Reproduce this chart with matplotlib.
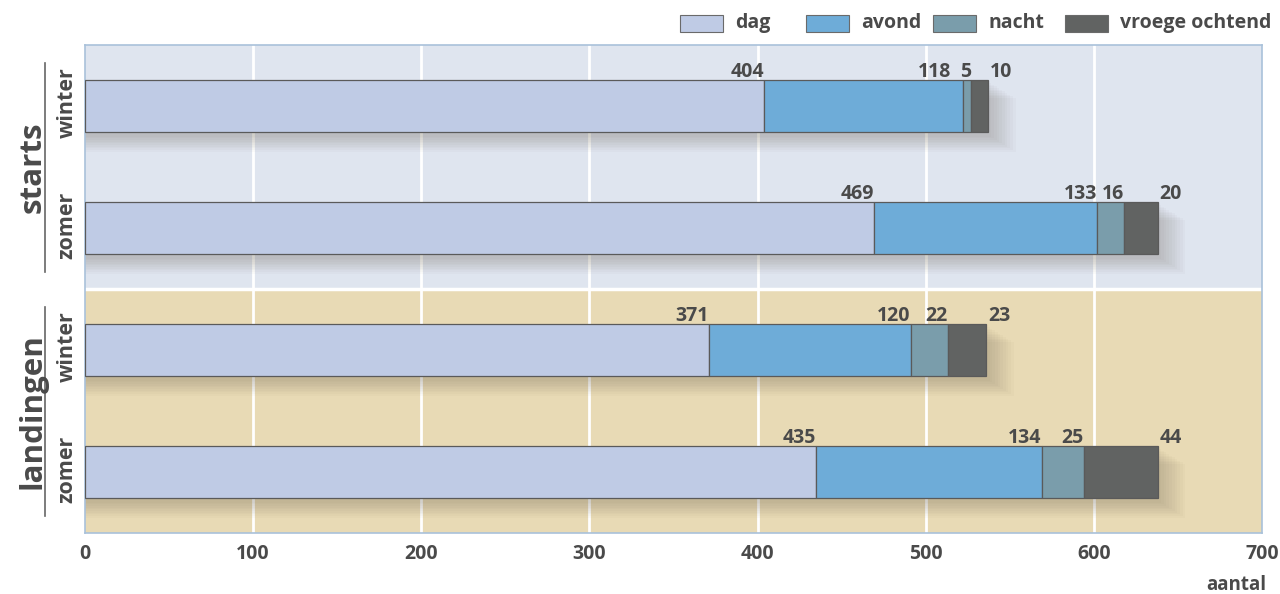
import matplotlib.pyplot as plt
import matplotlib.patches as mpatches
import numpy as np

# data
groups = ["starts", "landingen"]
seasons = ["winter", "zomer"]
periods = ["dag", "avond", "nacht", "vroege ochtend"]
colors = ["#bfcbe5", "#6eacd8", "#7a9dab", "#616362"]

dag = [404, 469, 371, 435]
avond = [118, 133, 120, 134]
nacht = [5, 16, 22, 25]
vroeg = [10, 20, 23, 44]

xticks = [0, 100, 200, 300, 400, 500, 600, 700]

txt = "#4a4a4a"
plt.rcParams["font.family"] = ["Open Sans", "DejaVu Sans"]

fig = plt.figure(figsize=(12.8, 5.94), dpi=100)
ax = fig.add_axes([85 / 1280, 1 - 533 / 594, (1262 - 85) / 1280, 488 / 594])

ax.set_xlim(0, 700)
ax.set_ylim(4, 0)

# backgrounds
ax.axhspan(0, 2, color="#dfe5ef", zorder=0)
ax.axhspan(2, 4, color="#e8dab5", zorder=0)
ax.axhline(2, color="white", lw=2.5, zorder=1)
for x in xticks[1:-1]:
    ax.axvline(x, color="white", lw=2, zorder=1)

data = np.array([dag, avond, nacht, vroeg]).T
ypos = np.arange(4) + 0.5
h = 0.42

for i, row in enumerate(data):
    total = row.sum()
    # soft shadow
    for k in range(10):
        ax.add_patch(mpatches.Rectangle((0, ypos[i] - h / 2 + 0.02 + 0.014 * k),
                                        total + 2 + 1.6 * k, h + 0.02,
                                        color="#6a6050", alpha=0.03, lw=0, zorder=2))
    left = 0
    for j, v in enumerate(row):
        ax.barh(ypos[i], v, left=left, height=h, color=colors[j],
                edgecolor="#5a5a5a", linewidth=0.9, zorder=3)
        end = left + v
        ty = ypos[i] - h / 2 - 0.027
        if j == len(row) - 1:
            ax.text(end + 1, ty, str(v), ha="left", va="baseline",
                    fontsize=14, fontweight="bold", color=txt)
        else:
            shift = -7 if row[j + 1] < 10 else 0
            ax.text(end + shift, ty, str(v), ha="right", va="baseline",
                    fontsize=14, fontweight="bold", color=txt)
        left = end

ax.set_yticks([])
ax.set_xticks(xticks)
ax.set_xticklabels([str(x) for x in xticks], fontsize=14, fontweight="bold",
                   color=txt)
ax.tick_params(axis="x", length=0, pad=8)
for s in ax.spines.values():
    s.set_color("#a9c1da")
    s.set_linewidth(1.2)

fig.text(1266 / 1280, 1 - 585 / 594, "aantal", ha="right", va="center",
         fontsize=13.5, fontweight="bold", color=txt)

# group and season labels
for g, name in enumerate(groups):
    yc = 1 - (45 + 122 * (2 * g + 1)) / 594
    fig.text(33 / 1280, yc, name, rotation=90, ha="center", va="center",
             fontsize=22.5, fontweight="bold", color=txt)
    y0 = 1 - (45 + 244 * g + 18) / 594
    y1 = 1 - (45 + 244 * g + 227) / 594
    fig.add_artist(plt.Line2D([45 / 1280, 45 / 1280], [y0, y1], color="#666666", lw=1.2))
    for s, sn in enumerate(seasons):
        ys = 1 - (45 + 122 * (2 * g + s) + 58) / 594
        fig.text(67 / 1280, ys, sn, rotation=90, ha="center", va="center",
                 fontsize=15.5, fontweight="bold", color=txt)

# legend
box_x = [680, 806, 933, 1065]
for p, c, bx in zip(periods, colors, box_x):
    fig.add_artist(mpatches.Rectangle((bx / 1280, 1 - 32 / 594), 43 / 1280, 17 / 594,
                                      facecolor=c, edgecolor="#6a6a6a", lw=0.8,
                                      transform=fig.transFigure))
    fig.text((bx + 55) / 1280, 1 - 23 / 594, p, ha="left", va="center",
             fontsize=14, fontweight="bold", color=txt)

fig.savefig("out.png", dpi=100)
